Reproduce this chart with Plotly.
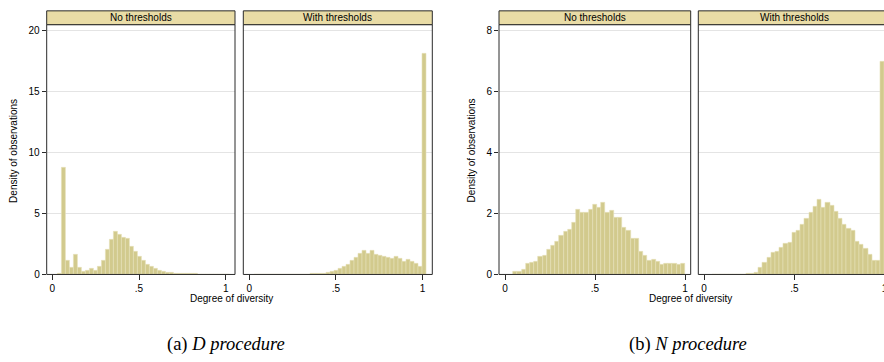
import plotly.graph_objects as go

# ---------------- data ----------------
facets = ["No thresholds", "With thresholds"]
x_ticks = [0, 0.5, 1]
x_ticklabels = ["0", ".5", "1"]
y_title = "Density of observations"
x_title = "Degree of diversity"
captions = ["(a) <i>D procedure</i>", "(b) <i>N procedure</i>"]

# Panel (a): D procedure, bins start 0.029, width 0.0231
a_bin_start = 0.029
a_bin_width = 0.0231
a_no_thresholds = [0.05, 8.8, 1.17, 0.54, 1.6, 0.52, 0.27, 0.3, 0.46, 0.35,
                   0.6, 1.14, 2.07, 2.83, 3.5, 3.29, 3.04, 2.96, 2.26, 1.9,
                   1.5, 1.14, 0.82, 0.6, 0.49, 0.33, 0.24, 0.16, 0.14, 0.08,
                   0.08, 0.05, 0.04, 0.03, 0.03, 0.02, 0.02, 0.01, 0.01, 0.01,
                   0.01, 0.0, 0.0]
a_with_thresholds = [0, 0, 0, 0, 0, 0, 0, 0, 0, 0,
                     0.01, 0.01, 0.02, 0.02, 0.03, 0.04, 0.05, 0.08, 0.11, 0.19,
                     0.3, 0.46, 0.65, 0.79, 1.17, 1.41, 1.71, 1.98, 1.71, 1.96,
                     1.6, 1.52, 1.47, 1.39, 1.33, 1.44, 1.3, 1.09, 1.2, 1.06,
                     0.87, 0.65, 18.1]
a_y_ticks = [0, 5, 10, 15, 20]

# Panel (b): N procedure, bins start 0.046, width 0.02327
b_bin_start = 0.046
b_bin_width = 0.02327
b_no_thresholds = [0.08, 0.08, 0.17, 0.37, 0.39, 0.43, 0.59, 0.62, 0.8, 0.95,
                   1.08, 1.29, 1.39, 1.47, 1.71, 2.13, 2.04, 2.02, 2.13, 2.28,
                   2.2, 2.36, 2.03, 2.09, 1.85, 1.86, 1.54, 1.44, 1.16, 1.16,
                   0.74, 0.61, 0.46, 0.47, 0.42, 0.33, 0.35, 0.37, 0.34, 0.33,
                   0.34]
b_with_thresholds = [0, 0, 0, 0, 0, 0, 0.01, 0.01, 0.02, 0.04,
                     0.07, 0.21, 0.38, 0.54, 0.7, 0.76, 0.89, 1.0, 1.05, 1.36,
                     1.43, 1.63, 1.82, 2.03, 2.22, 2.45, 2.2, 2.36, 2.26, 2.07,
                     1.83, 1.64, 1.52, 1.43, 1.09, 0.97, 0.85, 0.64, 0.46, 0.45,
                     7.0]
b_y_ticks = [0, 2, 4, 6, 8]

# ---------------- styling / layout ----------------
# The original picture is cropped at its right edge: the figure is drawn a
# few pixels wider than the window and the page hides the overflow.
W, H = 890, 362
BAR = "#d2ca8d"
BAR_EDGE = "#e6e0b8"
STRIP = "#e9dca6"
FRAME = "#2a2a2a"
GRID = "#e4e4e4"
FONT = "Liberation Sans"


def px(x):
    return x / W


def py(y):
    return 1 - y / H


TOP, BOTTOM = 25.0, 278.3
STRIP_TOP = 11.0

# left px, right px, x of data 0, px per unit
panels = [
    dict(L=46.7, R=235.0, x0=52.3, s=173.4),
    dict(L=243.3, R=432.3, x0=249.2, s=173.4),
    dict(L=499.0, R=690.7, x0=505.0, s=180.0),
    dict(L=698.3, R=890.0, x0=704.0, s=180.6),
]

series = [
    (a_no_thresholds, a_bin_start, a_bin_width, a_y_ticks, 20.49),
    (a_with_thresholds, a_bin_start, a_bin_width, a_y_ticks, 20.49),
    (b_no_thresholds, b_bin_start, b_bin_width, b_y_ticks, 8.2),
    (b_with_thresholds, b_bin_start, b_bin_width, b_y_ticks, 8.2),
]

fig = go.Figure()
shapes = []
annotations = []

for i, (p, (vals, start, width, yt, ymax)) in enumerate(zip(panels, series)):
    n = i + 1
    xa = "x" if n == 1 else f"x{n}"
    ya = "y" if n == 1 else f"y{n}"
    centers = [start + (k + 0.5) * width for k in range(len(vals))]
    fig.add_trace(go.Bar(
        x=centers, y=vals, width=width, xaxis=xa, yaxis=ya,
        marker=dict(color=BAR, line=dict(color=BAR_EDGE, width=0.6)),
        showlegend=False, hoverinfo="x+y",
    ))
    left_panel = (i % 2 == 0)
    xrange = [(p["L"] - p["x0"]) / p["s"], (p["R"] - p["x0"]) / p["s"]]
    fig.update_layout(**{
        ("xaxis" if n == 1 else f"xaxis{n}"): dict(
            domain=[px(p["L"]), min(1.0, px(p["R"]))], range=xrange, anchor=ya,
            tickvals=x_ticks, ticktext=x_ticklabels, ticks="outside",
            ticklen=5, tickwidth=1, tickcolor=FRAME, showgrid=False,
            zeroline=False, showline=False,
            tickfont=dict(family=FONT, size=10, color="#000"),
            fixedrange=True,
        ),
        ("yaxis" if n == 1 else f"yaxis{n}"): dict(
            domain=[py(BOTTOM), py(TOP)], range=[0, ymax], anchor=xa,
            tickvals=yt, ticks="outside" if left_panel else "",
            ticklen=4, tickwidth=1, tickcolor=FRAME,
            showticklabels=left_panel, showgrid=True, gridcolor=GRID,
            gridwidth=1, zeroline=False, showline=False,
            tickfont=dict(family=FONT, size=10, color="#000"),
            fixedrange=True,
        ),
    })
    # frame
    shapes.append(dict(type="rect", xref="paper", yref="paper",
                       x0=px(p["L"]), x1=px(p["R"]), y0=py(BOTTOM), y1=py(TOP),
                       line=dict(color=FRAME, width=1), layer="above"))
    # strip
    shapes.append(dict(type="rect", xref="paper", yref="paper",
                       x0=px(p["L"]), x1=px(p["R"]), y0=py(TOP), y1=py(STRIP_TOP),
                       fillcolor=STRIP, line=dict(color=FRAME, width=1), layer="above"))
    annotations.append(dict(text=facets[i % 2], xref="paper", yref="paper",
                            x=px((p["L"] + p["R"]) / 2), y=py((TOP + STRIP_TOP) / 2),
                            showarrow=False, xanchor="center", yanchor="middle",
                            font=dict(family=FONT, size=10, color="#000")))

# y titles
for xc in (14.0, 471.5):
    annotations.append(dict(text=y_title, xref="paper", yref="paper",
                            x=px(xc), y=py(153), textangle=-90, showarrow=False,
                            xanchor="center", yanchor="middle",
                            font=dict(family=FONT, size=10, color="#000")))
# x titles
for xc in (231.0, 690.0):
    annotations.append(dict(text=x_title, xref="paper", yref="paper",
                            x=px(xc), y=py(303), showarrow=False,
                            xanchor="center", yanchor="middle",
                            font=dict(family=FONT, size=10, color="#000")))
# captions
for xc, cap in zip((226.0, 688.0), captions):
    annotations.append(dict(text=cap, xref="paper", yref="paper",
                            x=px(xc), y=py(349), showarrow=False,
                            xanchor="center", yanchor="middle",
                            font=dict(family="Liberation Serif", size=18.5, color="#000")))

fig.update_layout(
    width=W, height=H, margin=dict(l=0, r=0, t=0, b=0),
    paper_bgcolor="white", plot_bgcolor="white",
    bargap=0, barmode="overlay",
    shapes=shapes, annotations=annotations,
)

page_css = ("document.documentElement.style.margin='0';"
            "document.documentElement.style.overflow='hidden';"
            "document.body.style.margin='0';"
            "document.body.style.overflow='hidden';")

fig.write_html("out.html", config={"displayModeBar": False}, post_script=page_css)
